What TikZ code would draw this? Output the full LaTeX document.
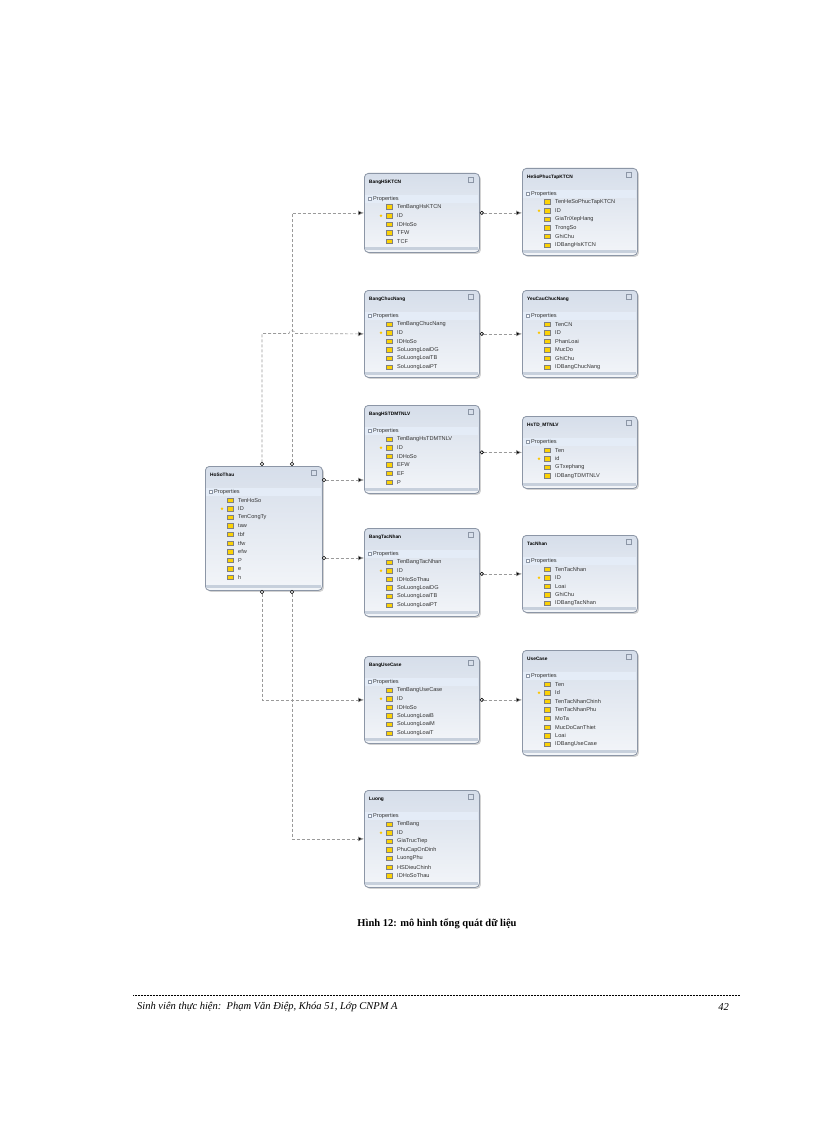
\documentclass[tikz,border=0pt]{standalone}
\usepackage{fontspec}
\setmainfont{Liberation Serif}
\newfontfamily\ui{Liberation Sans}
\usetikzlibrary{arrows.meta,shadows}
\definecolor{bd}{HTML}{8C96A6}
\definecolor{hd}{HTML}{D6DEEA}
\definecolor{bn}{HTML}{E4ECF7}
\definecolor{ln}{HTML}{9A9A9A}
\tikzset{
 box/.style={draw=bd,line width=0.8pt,rounded corners=4pt,top color=hd,bottom color=white!70!hd,drop shadow={shadow xshift=1.5pt,shadow yshift=-1.5pt,opacity=.35}},
 ttl/.style={font=\ui\fontsize{4.8}{5}\selectfont\bfseries,anchor=west,inner sep=0},
 fld/.style={font=\ui\fontsize{5.6}{6}\selectfont,anchor=west,inner sep=0,text=black!80},
 con/.style={draw=ln,dashed,dash pattern=on 3pt off 2pt,line width=0.6pt},
 ctip/.style={{Circle[open,length=4pt,fill=white,color=black]}-{Latex[length=6pt,width=5pt,fill=black]}},
}
\newcommand\ent[8]{%
 \node[box,minimum width=#4,minimum height=#5,anchor=north west] (#1) at (#2,#3) {};
 \fill[bn] (#2+0.8,#3+22) rectangle (#2+#4-0.8,#3+30);
 \fill[hd!80!bd] (#2+0.8,#3+#5-5) rectangle (#2+#4-0.8,#3+#5-2.5);
 \node[ttl] (#1-t) at (#2+5,#3+9) {#6};
 \draw[bd,line width=0.4pt] (#2+#4-11,#3+4) rectangle (#2+#4-6,#3+9);
 \draw[bd,line width=0.4pt,fill=white] (#2+4,#3+24.5) rectangle (#2+7,#3+27.5);
 \node[fld] (#1-p) at (#2+9,#3+26) {Properties};
 \foreach \f [count=\i] in {#8}{%
   \fill[yellow!70!orange,draw=gray,line width=0.2pt] (#2+22,#3+23+\i*8.6) rectangle (#2+28,#3+27.5+\i*8.6);
   \ifnum\i=#7 \fill[yellow!60!orange] (#2+17,#3+25.5+\i*8.6) circle (1.4pt);\fi
   \node[fld] (#1-f\i) at (#2+33,#3+25.5+\i*8.6) {\f};
 }%
}
\begin{document}
\begin{tikzpicture}[x=1pt,y=-1pt]
\useasboundingbox[fill=white] (0,0) rectangle (816,1123);
\ent{HoSoThau}{205}{466}{117}{124}{HoSoThau}{2}{TenHoSo,ID,TenCongTy,taw,tbf,tfw,efw,P,e,h}
\ent{BangHSKTCN}{364}{173}{115}{79}{BangHSKTCN}{2}{TenBangHsKTCN,ID,IDHoSo,TFW,TCF}
\ent{HeSoPhucTapKTCN}{522}{168}{115}{87}{HeSoPhucTapKTCN}{2}{TenHeSoPhucTapKTCN,ID,GiaTriXepHang,TrongSo,GhiChu,IDBangHsKTCN}
\ent{BangChucNang}{364}{290}{115}{87}{BangChucNang}{2}{TenBangChucNang,ID,IDHoSo,SoLuongLoaiDG,SoLuongLoaiTB,SoLuongLoaiPT}
\ent{YeuCauChucNang}{522}{290}{115}{87}{YeuCauChucNang}{2}{TenCN,ID,PhanLoai,MucDo,GhiChu,IDBangChucNang}
\ent{BangHSTDMTNLV}{364}{405}{115}{88}{BangHSTDMTNLV}{2}{TenBangHsTDMTNLV,ID,IDHoSo,EFW,EF,P}
\ent{HsTD}{522}{416}{115}{72}{HsTD\_MTNLV}{2}{Ten,id,GTxephang,IDBangTDMTNLV}
\ent{BangTacNhan}{364}{528}{115}{88}{BangTacNhan}{2}{TenBangTacNhan,ID,IDHoSoThau,SoLuongLoaiDG,SoLuongLoaiTB,SoLuongLoaiPT}
\ent{TacNhan}{522}{535}{115}{77}{TacNhan}{2}{TenTacNhan,ID,Loai,GhiChu,IDBangTacNhan}
\ent{BangUseCase}{364}{656}{115}{87}{BangUseCase}{2}{TenBangUseCase,ID,IDHoSo,SoLuongLoaiB,SoLuongLoaiM,SoLuongLoaiT}
\ent{UseCase}{522}{650}{115}{105}{UseCase}{2}{Ten,Id,TenTacNhanChinh,TenTacNhanPhu,MoTa,MucDoCanThiet,Loai,IDBangUseCase}
\ent{Luong}{364}{790}{115}{97}{Luong}{2}{TenBang,ID,GiaTrucTiep,PhuCapOnDinh,LuongPhu,HSDieuChinh,IDHoSoThau}
\coordinate (t1) at (262,466); \coordinate (t2) at (292,466);
\coordinate (b1) at (262,590); \coordinate (b2) at (292,590);
\coordinate (r1) at (322,480); \coordinate (r2) at (322,558);
\draw[con,ctip] (t2) |- (BangHSKTCN.west);
\draw[con,ctip] (t1) |- (289,333.5) arc (180:0:3 and -3) -- (BangChucNang.west);
\draw[con,ctip] (r1) -- (r1 -| BangHSTDMTNLV.west);
\draw[con,ctip] (r2) -- (r2 -| BangTacNhan.west);
\draw[con,ctip] (b1) |- (BangUseCase.west);
\draw[con,ctip] (b2) |- (Luong.west);
\draw[con,ctip] (BangHSKTCN.east) -- (BangHSKTCN.east -| HeSoPhucTapKTCN.west);
\draw[con,ctip] (BangChucNang.east) -- (YeuCauChucNang.west);
\draw[con,ctip] (HsTD.west -| BangHSTDMTNLV.east) -- (HsTD.west);
\draw[con,ctip] (TacNhan.west -| BangTacNhan.east) -- (TacNhan.west);
\draw[con,ctip] (BangUseCase.east) -- (BangUseCase.east -| UseCase.west);
\node[font=\bfseries\fontsize{10.5}{12}\selectfont] (cap) at (437,924) {Hình 12: mô hình tổng quát dữ liệu};
\draw[line width=0.6pt,dash pattern=on 1pt off 0.5pt] (133,995) -- (740,995);
\node[anchor=west,font=\itshape\fontsize{10.5}{12}\selectfont,inner sep=0] (ft) at (137,1007) {Sinh viên thực hiện:\ \ Phạm Văn Điệp, Khóa 51, Lớp CNPM A};
\node[anchor=east,font=\itshape\fontsize{10.5}{12}\selectfont,inner sep=0] (pg) at (729,1007) {42};
\end{tikzpicture}
\end{document}
